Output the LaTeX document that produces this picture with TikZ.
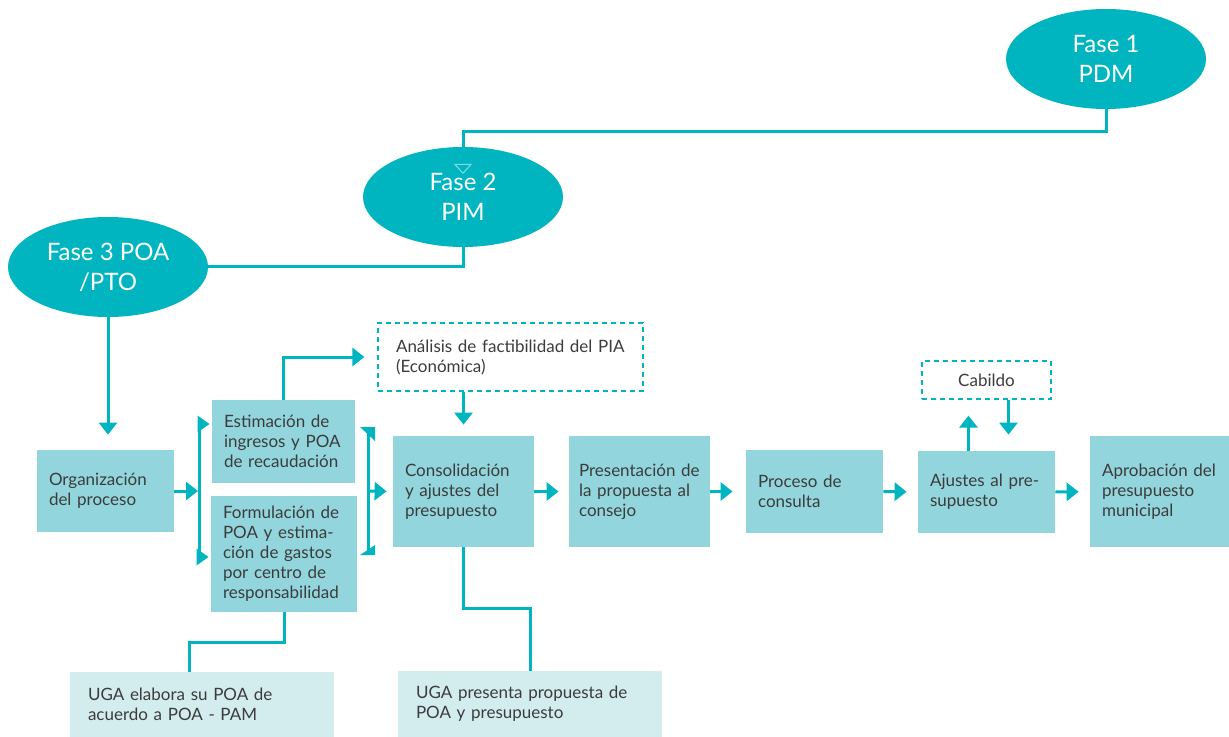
\documentclass[tikz,border=0pt]{standalone}
\usepackage{fontspec}
\setmainfont{Lato}
\usepackage{xcolor}
\usetikzlibrary{positioning,arrows.meta,shapes.geometric}
\definecolor{fasecol}{HTML}{00B5BF}
\definecolor{boxcol}{HTML}{92D5DC}
\definecolor{ugacol}{HTML}{D3ECEE}
\definecolor{txtcol}{HTML}{3C3C3C}
\definecolor{tipcol}{HTML}{7FDCE0}

\begin{document}
\begin{tikzpicture}[x=0.5pt, y=-0.5pt,
  fase/.style={ellipse, fill=fasecol, text=white, minimum width=100pt, minimum height=50pt,
    inner sep=0pt, align=center, font=\fontsize{12}{15}\selectfont},
  box/.style={fill=boxcol, text=txtcol, inner xsep=6pt, inner ysep=0pt, align=left,
    font=\fontsize{8.5}{10}\selectfont},
  ugabox/.style={box, fill=ugacol, inner xsep=9pt},
  dashbox/.style={box, fill=white, draw=fasecol, dash pattern=on 2.5pt off 2pt, line width=0.6pt},
  link/.style={draw=fasecol, line width=1.5pt},
  flow/.style={link, -{Triangle[width=9pt,length=6pt]}},
  smallflow/.style={link, -{Triangle[width=8pt,length=6pt]}}]
  \useasboundingbox (0,0) rectangle (1229,737);

  % ---- Fases ----
  \node[fase] (f1) at (1106,59) {Fase 1\\PDM};
  \node[fase] (f2) at (463,197) {Fase 2\\PIM};
  \node[fase] (f3) at (108,267) {Fase 3 POA\\/PTO};
  \coordinate (f2in) at (463,174);

  % ---- Process boxes ----
  \node[box, text width=56.5pt, minimum height=41pt] (org) at (105.5,491) {Organización\\del proceso};
  \node[box, text width=59.5pt, minimum height=41.5pt] (est) at (283.5,441.5) {Estimación de\\ingresos y POA\\de recaudación};
  \node[box, text width=61pt, minimum height=58pt] (form) at (284,554) {Formulación de\\POA y estima-\\ción de gastos\\por centro de\\responsabilidad};
  \node[box, text width=58.5pt, minimum height=55.5pt] (cons) at (463.5,491.5) {Consolidación\\y ajustes del\\presupuesto};
  \node[box, inner xsep=5pt, text width=60.5pt, minimum height=55.5pt] (pres) at (639.5,491.5) {Presentación de\\la propuesta al\\consejo};
  \node[box, text width=56.5pt, minimum height=41.5pt] (proc) at (814.5,491.5) {Proceso de\\consulta};
  \node[box, text width=56.5pt, minimum height=41pt] (ajus) at (986.5,492) {Ajustes al pre-\\supuesto};
  \node[box, text width=57.5pt, minimum height=55.5pt] (apro) at (1159.5,491.5) {Aprobación del\\presupuesto\\municipal};

  % dashed side boxes
  \node[dashbox, inner xsep=9pt, text width=114.5pt, minimum height=34pt] (anal) at (510.5,357) {Análisis de factibilidad del PIA\\(Económica)};
  \node[dashbox, align=center, minimum width=64.5pt, minimum height=19pt] (cab) at (986.5,380) {Cabildo};

  % UGA boxes
  \node[ugabox, text width=114pt, minimum height=32.5pt] (uga1) at (202,704.5) {UGA elabora su POA de\\acuerdo a POA - PAM};
  \node[ugabox, text width=114pt, minimum height=33pt] (uga2) at (530,704) {UGA presenta propuesta de\\POA y presupuesto};

  % ---- Connectors between fases ----
  \draw[link, -{Triangle[open, width=9pt, length=5pt, line width=0.5pt, color=tipcol]}]
    (f1.south) -- ++(0,-11pt) -| (f2in);
  \draw[link] (f2.south) |- (f3.east);
  \draw[flow, shorten >=7.5pt] (f3.south) -- (f3.south |- org.north);

  % ---- Brackets ----
  \coordinate (lbt) at (199,424);
  \coordinate (lbb) at (199,557);
  \coordinate (lbm) at (198,491);
  \coordinate (rbt) at (368,428);
  \coordinate (rbb) at (368,553);
  \coordinate (rbm) at (368,491);
  \draw[link] (lbt) -- (lbb);
  \draw[flow] (org.east) -- (lbm);
  \draw[smallflow, shorten >=1pt] (lbt) -- (est.west |- lbt);
  \draw[smallflow, shorten >=1pt] (lbb) -- (form.west |- lbb);
  \draw[link] (rbt) -- (rbb);
  \fill[fasecol] (360,427) -- (375,427) -- (375,441) -- cycle;
  \fill[fasecol] (360,555) -- (375,545) -- (375,555) -- cycle;
  \draw[flow, shorten >=3pt] (rbm) -- (cons.west);

  % ---- Main flow ----
  \draw[flow, shorten >=6.5pt] (est.north) |- (anal.west);
  \draw[flow, shorten >=5.5pt] (anal.south -| cons.north) -- (cons.north);
  \draw[flow, shorten >=5pt] (cons.east) -- (pres.west);
  \draw[flow, shorten >=6.5pt] (pres.east) -- (proc.west);
  \draw[flow, shorten >=5.5pt] (proc.east) -- (ajus.west);
  \draw[flow, shorten >=5.5pt] (ajus.east) -- (apro.west);
  \draw[flow, shorten >=8pt] ([xshift=-9pt]ajus.north) -- ([xshift=-9pt]cab.south);
  \draw[flow, shorten >=8pt] ([xshift=11pt]cab.south) -- ([xshift=11pt]ajus.north);

  % ---- UGA links ----
  \draw[link] (form.south) -- ++(0,-15pt) -| ([xshift=-6.5pt]uga1.north);
  \draw[link] (cons.south) -- ++(0,-30.5pt) -| (uga2.north);
\end{tikzpicture}
\end{document}
